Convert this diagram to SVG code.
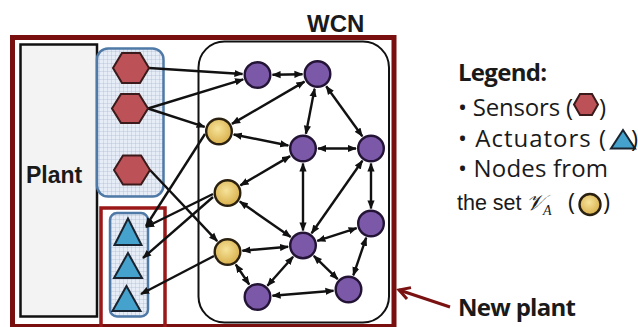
<svg xmlns="http://www.w3.org/2000/svg" width="638" height="327" viewBox="0 0 638 327">
<style>
.lbl{font-family:"Liberation Sans",Arial,sans-serif;fill:#1a1a1a}
.lg{font-family:"Open Sans","Liberation Sans",Arial,sans-serif;fill:#1a1a1a;font-size:24px}
.b{font-weight:bold}
.hex{fill:#bd5158;stroke:#3a1a1a;stroke-width:2}
.tri{fill:#45a2cc;stroke:#1a2430;stroke-width:2}
.pur{fill:#7c58a8;stroke:#231436;stroke-width:2.4}
.yel{fill:url(#gold);stroke:#2a2010;stroke-width:2.4}
.e{stroke:#111;stroke-width:2.4;fill:none}
.d{marker-start:url(#ah);marker-end:url(#ah)}
.s{marker-end:url(#ah)}
</style>
<defs>
<pattern id="grid" width="4" height="4" patternUnits="userSpaceOnUse">
<rect width="4" height="4" fill="#e6edf6"/>
<path d="M4 0V4M0 4H4" stroke="#a6b8cf" stroke-width="0.7"/>
</pattern>
<radialGradient id="gold" cx="0.45" cy="0.4" r="0.65">
<stop offset="0" stop-color="#f6e39a"/>
<stop offset="1" stop-color="#d6ab45"/>
</radialGradient>
<marker id="ah" viewBox="0 0 10 8" refX="9" refY="4" markerWidth="9" markerHeight="8" markerUnits="userSpaceOnUse" orient="auto-start-reverse">
<path d="M0,0 L10,4 L0,8 z" fill="#111"/>
</marker>
</defs>
<rect width="638" height="327" fill="#ffffff"/>

<g id="new-plant-frame">
<rect x="12.5" y="37.5" width="381.5" height="289" fill="none" stroke="#7a0f0f" stroke-width="5"/>
</g>

<g id="plant">
<rect x="20.5" y="44.5" width="76.5" height="272" fill="#f3f3f3" stroke="#111" stroke-width="2.5"/>
<text class="lbl b" x="26" y="183" font-size="23">Plant</text>
</g>

<g id="sensor-group">
<rect x="97" y="48.5" width="66.5" height="148" rx="11" fill="url(#grid)" stroke="#4f79a6" stroke-width="2.5"/>
</g>

<g id="actuator-frame">
<rect x="101" y="208" width="64" height="125" fill="none" stroke="#9a1818" stroke-width="3.5"/>
</g>
<g id="actuator-group">
<rect x="110" y="213" width="38" height="103.5" rx="7" fill="url(#grid)" stroke="#4f79a6" stroke-width="2.5"/>
</g>

<g id="wcn">
<rect x="198.5" y="41.5" width="190.5" height="281" rx="26" fill="#ffffff" stroke="#111" stroke-width="2"/>
<text class="lbl b" x="307" y="32" font-size="24">WCN</text>
</g>

<g id="connectors">
<line class="e s" x1="149" y1="68" x2="242.5" y2="74"/>
<line class="e s" x1="148" y1="108.5" x2="243.2" y2="79.4"/>
<line class="e s" x1="148" y1="108.5" x2="204.7" y2="126.9"/>
<line class="e s" x1="150" y1="170" x2="217.2" y2="241.1"/>
<line class="e s" x1="205" y1="134" x2="146" y2="226"/>
<line class="e s" x1="213" y1="194" x2="146" y2="227"/>
<line class="e s" x1="213" y1="197" x2="143" y2="258"/>
<line class="e s" x1="214" y1="256" x2="141" y2="294"/>
<line class="e d" x1="272.5" y1="74.8" x2="302.5" y2="74.2"/>
<line class="e d" x1="304.5" y1="81.6" x2="232" y2="123.9"/>
<line class="e d" x1="314.6" y1="88.7" x2="305.9" y2="133.8"/>
<line class="e d" x1="326.2" y1="86.2" x2="362.3" y2="136.3"/>
<line class="e d" x1="233.7" y1="134.5" x2="288.3" y2="145.5"/>
<line class="e d" x1="318" y1="148.5" x2="356" y2="148.5"/>
<line class="e d" x1="290.1" y1="156.1" x2="240.4" y2="185.4"/>
<line class="e d" x1="303" y1="163.5" x2="303" y2="230.5"/>
<line class="e d" x1="362.4" y1="160.8" x2="311.6" y2="233.2"/>
<line class="e d" x1="371" y1="163.5" x2="371" y2="208.5"/>
<line class="e d" x1="239.8" y1="201.6" x2="290.7" y2="236.9"/>
<line class="e d" x1="242.4" y1="250.7" x2="288.1" y2="246.8"/>
<line class="e d" x1="356.7" y1="228.1" x2="317.3" y2="240.9"/>
<line class="e d" x1="366.2" y1="237.7" x2="353.3" y2="275.3"/>
<line class="e d" x1="293.1" y1="256.7" x2="267.4" y2="285.8"/>
<line class="e d" x1="313.8" y1="255.9" x2="337.7" y2="279.1"/>
<line class="e d" x1="235.8" y1="264.5" x2="249.2" y2="284.5"/>
<line class="e d" x1="272.5" y1="295.8" x2="333.5" y2="290.7"/>
</g>

<g id="sensor-1"><polygon class="hex" points="113,68 122,53 140,53 149,68 140,83 122,83"/></g>
<g id="sensor-2"><polygon class="hex" points="112,108.5 121,94 139,94 148,108.5 139,123 121,123"/></g>
<g id="sensor-3"><polygon class="hex" points="114,170 123,155.5 141,155.5 150,170 141,184.5 123,184.5"/></g>

<g id="actuator-1"><polygon class="tri" points="128,218.5 114.5,245 141.5,245"/></g>
<g id="actuator-2"><polygon class="tri" points="128,253 114,278 142,278"/></g>
<g id="actuator-3"><polygon class="tri" points="126.5,286 112.5,311 140.5,311"/></g>

<g id="n-p1"><circle class="pur" cx="257.5" cy="75" r="12.8"/></g>
<g id="n-p2"><circle class="pur" cx="317.5" cy="74" r="12.8"/></g>
<g id="n-y1"><circle class="yel" cx="219" cy="131.5" r="12.8"/></g>
<g id="n-p3"><circle class="pur" cx="303" cy="148.5" r="12.8"/></g>
<g id="n-p4"><circle class="pur" cx="371" cy="148.5" r="12.8"/></g>
<g id="n-y2"><circle class="yel" cx="227.5" cy="193" r="12.8"/></g>
<g id="n-y3"><circle class="yel" cx="227.5" cy="252" r="12.8"/></g>
<g id="n-p5"><circle class="pur" cx="303" cy="245.5" r="12.8"/></g>
<g id="n-p6"><circle class="pur" cx="371" cy="223.5" r="12.8"/></g>
<g id="n-p7"><circle class="pur" cx="257.5" cy="297" r="12.8"/></g>
<g id="n-p8"><circle class="pur" cx="348.5" cy="289.5" r="12.8"/></g>

<g id="legend">
<text class="lg b" x="458" y="81" font-size="22" textLength="89">Legend:</text>
<text class="lg" x="458" y="116" textLength="115">• Sensors (</text>
<polygon class="hex" points="574,104.5 580,94 592,94 598,104.5 592,115 580,115"/>
<text class="lg" x="599" y="116">)</text>
<text class="lg" x="458" y="147" textLength="148">• Actuators (</text>
<polygon class="tri" points="623,130 611,148.5 635,148.5"/>
<text class="lg" x="631" y="147">)</text>
<text class="lg" x="458" y="177" textLength="150">• Nodes from</text>
<text class="lbl" x="457" y="210" font-size="21.5">the set</text>
<text x="526" y="210" font-family="'DejaVu Serif','Liberation Serif',serif" font-style="italic" font-size="22" fill="#1a1a1a">𝒱<tspan font-family="'Liberation Serif',serif" font-size="14" dx="-1" dy="5">A</tspan></text>
<text class="lg" x="568" y="210">(</text>
<circle class="yel" cx="590" cy="204.5" r="10.5"/>
<text class="lg" x="603" y="210">)</text>
</g>

<g id="new-plant-label">
<line x1="450" y1="307" x2="399" y2="290" stroke="#7a1212" stroke-width="3"/>
<polyline points="411,287.6 399,290 407,299" fill="none" stroke="#7a1212" stroke-width="3"/>
<text class="lg b" x="458" y="316" font-size="22" textLength="118">New plant</text>
</g>
</svg>
